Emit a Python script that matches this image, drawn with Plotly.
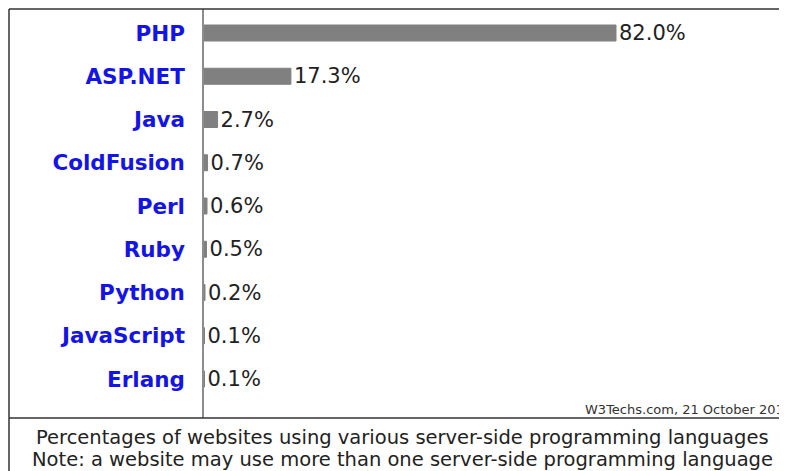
import plotly.graph_objects as go

languages = ["PHP", "ASP.NET", "Java", "ColdFusion", "Perl", "Ruby", "Python", "JavaScript", "Erlang"]
percent = [82.0, 17.3, 2.7, 0.7, 0.6, 0.5, 0.2, 0.1, 0.1]
value_labels = ["82.0%", "17.3%", "2.7%", "0.7%", "0.6%", "0.5%", "0.2%", "0.1%", "0.1%"]
caption_lines = [
    "Percentages of websites using various server-side programming languages",
    "Note: a website may use more than one server-side programming language",
]
source_note = "W3Techs.com, 21 October 2014"

# page body has an 8px margin; coordinates below are in window pixels
OFF = 8
W, H = 787, 471 - OFF


def px(x):
    return (x - OFF) / W


def py(y):
    return 1 - (y - OFF) / H


axis_x = 204
bar_end = 616
scale = (bar_end - axis_x) / percent[0]
top, sep = 9, 418
first_c, step = 33, 43.25

fig = go.Figure(
    go.Bar(
        x=percent,
        y=languages,
        orientation="h",
        width=0.37,
        marker=dict(color="#808080", line=dict(color="#808080", width=1)),
        text=value_labels,
        textposition="outside",
        constraintext="none",
        textfont=dict(family="DejaVu Sans", size=21, color="#222222"),
        cliponaxis=False,
        hoverinfo="skip",
    )
)

fig.update_xaxes(
    domain=[px(axis_x), 1],
    range=[0, (W + OFF - axis_x) / scale],
    showgrid=False,
    zeroline=False,
    showticklabels=False,
    showline=False,
    fixedrange=True,
)
fig.update_yaxes(
    domain=[py(sep), py(top)],
    type="category",
    categoryorder="array",
    categoryarray=languages,
    tickmode="array",
    tickvals=languages,
    ticktext=[f"<b>{l}</b>" for l in languages],
    range=[(sep - first_c) / step, (top - first_c) / step],
    tickfont=dict(family="DejaVu Sans", size=21.5, color="#1414e6"),
    ticks="outside",
    ticklen=13,
    tickcolor="rgba(0,0,0,0)",
    showline=True,
    linecolor="#8c8c8c",
    linewidth=1.5,
    showgrid=False,
    zeroline=False,
    automargin=False,
    fixedrange=True,
)

border = dict(color="#333333", width=1.5)
shapes = [
    dict(type="line", xref="paper", yref="paper", x0=px(9), x1=px(820), y0=py(top), y1=py(top), line=border),
    dict(type="line", xref="paper", yref="paper", x0=px(9), x1=px(9), y0=py(top), y1=py(475), line=border),
    dict(type="line", xref="paper", yref="paper", x0=px(9), x1=px(820), y0=py(sep), y1=py(sep), line=border),
]

annotations = [
    dict(text=source_note, xref="paper", yref="paper", x=px(794), y=py(409), xanchor="right", yanchor="middle",
         showarrow=False, font=dict(family="DejaVu Sans", size=13, color="#333333")),
    dict(text=caption_lines[0], xref="paper", yref="paper", x=px(402.5), y=py(437), xanchor="center", yanchor="middle",
         showarrow=False, font=dict(family="DejaVu Sans", size=19.5, color="#222222")),
    dict(text=caption_lines[1], xref="paper", yref="paper", x=px(402.5), y=py(459), xanchor="center", yanchor="middle",
         showarrow=False, font=dict(family="DejaVu Sans", size=19.5, color="#222222")),
]

fig.update_layout(
    width=W,
    height=H,
    margin=dict(l=0, r=0, t=0, b=0),
    paper_bgcolor="white",
    plot_bgcolor="white",
    showlegend=False,
    shapes=shapes,
    annotations=annotations,
)

fig.write_html("out.html")
